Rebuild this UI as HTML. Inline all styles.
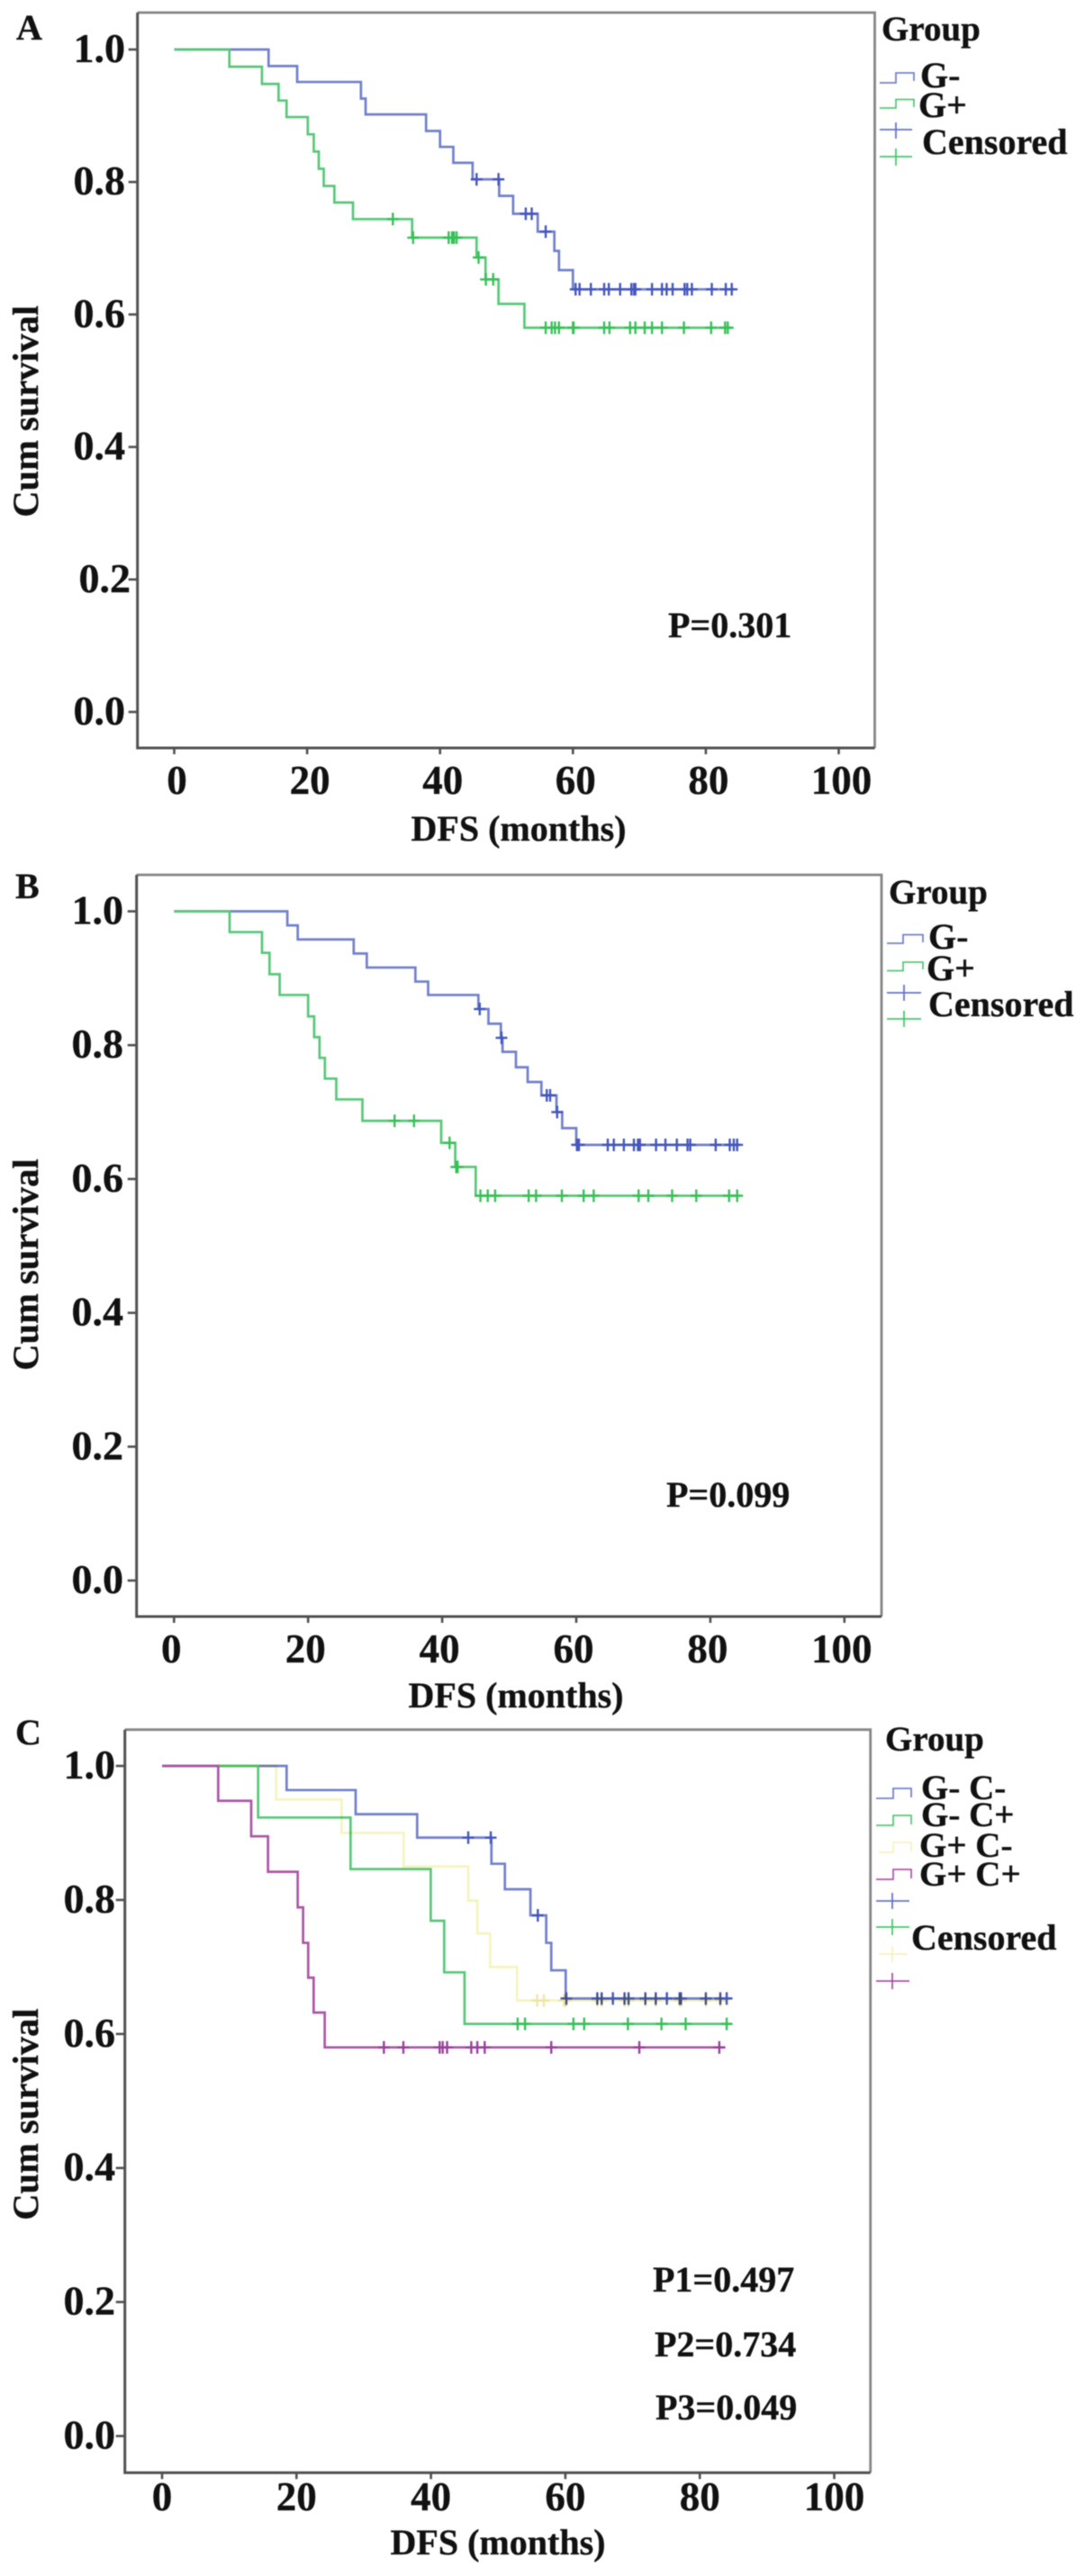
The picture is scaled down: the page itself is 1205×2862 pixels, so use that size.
<!DOCTYPE html>
<html lang="en">
<head>
<meta charset="utf-8">
<title>Kaplan-Meier DFS curves</title>
<style>
html,body{margin:0;padding:0;background:#fff;}
#chart{display:block;width:1205px;height:2862px;filter:blur(.6px);}
text{font-family:"Liberation Serif",serif;font-weight:bold;fill:#111;stroke:#111;stroke-width:.35px;}
</style>
</head>
<body>
<svg id="chart" xmlns="http://www.w3.org/2000/svg" width="1205" height="2862" viewBox="0 0 1205 2862">
  <rect x="0" y="0" width="1205" height="2862" fill="#fff"/>

  <g id="panel-a">
    <text x="18" y="44" font-size="40">A</text>
    <text x="576" y="934" font-size="40" text-anchor="middle">DFS (months)</text>
    <text transform="translate(42 457) rotate(-90)" font-size="40.5" text-anchor="middle">Cum survival</text>
    <text x="742" y="708" font-size="40">P=0.301</text>
    <text x="979" y="45" font-size="39">Group</text>
    <text x="1022" y="97" font-size="40">G-</text>
    <text x="1020" y="130" font-size="40">G+</text>
    <text x="1024" y="171" font-size="40">Censored</text>
    <path d="M977 92H995V81H1015V90" fill="none" stroke="#7482cc" stroke-width="1.8"/>
    <path d="M977 120H995V110.5H1015V119" fill="none" stroke="#55c878" stroke-width="1.8"/>
    <path d="M977 144H1013M995 136V154" fill="none" stroke="#6474c8" stroke-width="1.8"/>
    <path d="M977 174H1013M995 165V184" fill="none" stroke="#45c868" stroke-width="1.8"/>
  </g>

  <g id="panel-b">
    <text x="17" y="998" font-size="40">B</text>
    <text x="573" y="1897" font-size="40" text-anchor="middle">DFS (months)</text>
    <text transform="translate(42 1405) rotate(-90)" font-size="40.5" text-anchor="middle">Cum survival</text>
    <text x="740" y="1674" font-size="40">P=0.099</text>
    <text x="987" y="1004" font-size="39">Group</text>
    <text x="1031" y="1054" font-size="40">G-</text>
    <text x="1029" y="1089" font-size="40">G+</text>
    <text x="1031" y="1129" font-size="40">Censored</text>
    <path d="M985 1048H1003V1038.5H1025V1047" fill="none" stroke="#7482cc" stroke-width="1.8"/>
    <path d="M985 1078.5H1003V1069H1025V1077" fill="none" stroke="#55c878" stroke-width="1.8"/>
    <path d="M985 1103H1023M1004 1094V1112" fill="none" stroke="#6474c8" stroke-width="1.8"/>
    <path d="M985 1132H1023M1004 1123V1141" fill="none" stroke="#45c868" stroke-width="1.8"/>
  </g>

  <g id="panel-c">
    <text x="17" y="1938" font-size="40">C</text>
    <text x="553" y="2838" font-size="40" text-anchor="middle">DFS (months)</text>
    <text transform="translate(42 2349) rotate(-90)" font-size="40.5" text-anchor="middle">Cum survival</text>
    <text x="725" y="2546" font-size="40">P1=0.497</text>
    <text x="727" y="2618" font-size="40">P2=0.734</text>
    <text x="728" y="2688" font-size="40">P3=0.049</text>
    <text x="983" y="1945" font-size="39">Group</text>
    <text x="1023" y="1999" font-size="39">G- C-</text>
    <text x="1023" y="2029" font-size="39">G- C+</text>
    <text x="1021" y="2063" font-size="39">G+ C-</text>
    <text x="1021" y="2095" font-size="39">G+ C+</text>
    <text x="1012" y="2166" font-size="40">Censored</text>
    <path d="M973 1998H992V1987H1012V1997" fill="none" stroke="#7482cc" stroke-width="1.8"/>
    <path d="M973 2028H992V2017H1012V2027" fill="none" stroke="#55c878" stroke-width="1.8"/>
    <path d="M976 2058H992V2047H1012V2057" fill="none" stroke="#f6f4c0" stroke-width="1.8"/>
    <path d="M973 2088H992V2077H1012V2087" fill="none" stroke="#b058a8" stroke-width="1.8"/>
    <path d="M973 2112H1010M991 2103V2121" fill="none" stroke="#6474c8" stroke-width="1.8"/>
    <path d="M973 2141H1010M991 2132V2150" fill="none" stroke="#45c868" stroke-width="1.8"/>
    <path d="M976 2171H1008M991 2162V2180" fill="none" stroke="#f4f2bc" stroke-width="1.8"/>
    <path d="M973 2201H1010M991 2192V2210" fill="none" stroke="#a850a0" stroke-width="1.8"/>
  </g>
</svg>

<script>
// ----- Shared axis values -----
const xTickValues = [0, 20, 40, 60, 80, 100];
const xTickLabels = ['0', '20', '40', '60', '80', '100'];
const yTickValues = [0, 0.2, 0.4, 0.6, 0.8, 1];
const yTickLabels = ['0.0', '0.2', '0.4', '0.6', '0.8', '1.0'];

// ----- Panel A (months at each event, survival after it, censor months, last follow-up) -----
const aNegTimes = [14.2, 18.5, 28.1, 28.8, 37.9, 40.0, 42.0, 44.9, 48.9, 51.0, 54.7, 57.2, 57.9, 60.0];
const aNegSurvival = [0.975, 0.951, 0.926, 0.902, 0.877, 0.853, 0.829, 0.804, 0.779, 0.752, 0.725, 0.696, 0.667, 0.638];
const aNegCensored = [45.5, 48.8, 52.9, 53.8, 55.9, 60.4, 61.0, 62.7, 64.7, 65.4, 67.1, 68.8, 69.2, 69.4, 71.9, 73.4, 74.1, 75.0, 76.8, 77.2, 77.9, 80.9, 83.0, 83.9];
const aNegEnd = 84.4;
const aPosTimes = [8.3, 13.2, 15.7, 16.9, 20.1, 21.0, 21.75, 22.5, 24.1, 26.9, 35.8, 45.5, 46.85, 48.8, 52.7];
const aPosSurvival = [0.974, 0.948, 0.923, 0.898, 0.872, 0.846, 0.820, 0.794, 0.769, 0.744, 0.716, 0.686, 0.653, 0.616, 0.580];
const aPosCensored = [32.9, 35.95, 41.3, 41.8, 42.1, 42.5, 45.8, 46.9, 48.0, 55.9, 56.8, 57.3, 57.9, 60.0, 60.1, 64.7, 65.5, 68.6, 69.4, 70.8, 71.9, 73.4, 76.7, 80.8, 82.9, 83.3];
const aPosEnd = 83.8;

// ----- Panel B -----
const bNegTimes = [16.9, 18.45, 26.8, 28.75, 36.0, 37.9, 45.4, 46.9, 48.75, 49.0, 51.0, 52.75, 54.8, 57.05, 57.9, 60.0];
const bNegSurvival = [0.979, 0.958, 0.937, 0.916, 0.895, 0.875, 0.854, 0.832, 0.811, 0.790, 0.767, 0.745, 0.725, 0.700, 0.676, 0.651];
const bNegCensored = [45.6, 48.85, 55.6, 56.1, 57.15, 60.1, 60.4, 64.7, 65.6, 67.1, 68.6, 69.2, 69.5, 71.9, 73.3, 75.0, 76.6, 77.0, 80.8, 82.9, 83.5, 84.0];
const bNegEnd = 84.4;
const bPosTimes = [8.29, 13.12, 14.24, 15.76, 20.0, 20.9, 21.7, 22.5, 24.2, 28.1, 39.85, 41.95, 45.0];
const bPosSurvival = [0.969, 0.938, 0.906, 0.875, 0.843, 0.812, 0.781, 0.750, 0.719, 0.687, 0.654, 0.618, 0.575];
const bPosCensored = [32.9, 35.8, 41.1, 42.1, 42.3, 45.7, 46.8, 47.9, 52.9, 54.0, 57.85, 61.1, 62.6, 69.3, 70.75, 74.3, 77.9, 82.8, 84.0];
const bPosEnd = 84.4;

// ----- Panel C -----
const cNegNegTimes = [18.53, 28.8, 37.95, 49.0, 51.0, 54.8, 57.15, 57.9, 60.05];
const cNegNegSurvival = [0.964, 0.928, 0.893, 0.854, 0.816, 0.777, 0.736, 0.695, 0.653];
const cNegNegCensored = [45.55, 48.9, 55.9, 60.15, 64.75, 65.4, 67.07, 68.8, 69.4, 71.9, 73.45, 75.1, 77.0, 77.2, 80.9, 83.05, 84.0];
const cNegNegEnd = 84.6;
const cNegPosTimes = [14.29, 28.04, 39.97, 41.97, 45.0];
const cNegPosSurvival = [0.923, 0.846, 0.769, 0.692, 0.615];
const cNegPosCensored = [52.9, 54.0, 61.2, 62.8, 69.3, 74.3, 77.9, 84.0];
const cNegPosEnd = 84.6;
const cPosNegTimes = [16.97, 26.7, 35.94, 45.55, 46.9, 48.8, 52.8];
const cPosNegSurvival = [0.950, 0.900, 0.850, 0.799, 0.750, 0.700, 0.650];
const cPosNegCensored = [55.8, 56.8, 59.8, 60.1, 64.75, 65.4, 68.8, 69.4, 71.9, 73.45, 77.0, 77.2, 80.9, 83.05];
const cPosNegEnd = 83.5;
const cPosPosTimes = [8.35, 13.26, 15.76, 20.18, 20.98, 21.74, 22.55, 24.2];
const cPosPosSurvival = [0.948, 0.895, 0.842, 0.789, 0.736, 0.684, 0.632, 0.580];
const cPosPosCensored = [33.0, 35.9, 41.3, 41.75, 42.4, 46.0, 46.9, 48.0, 57.9, 71.0, 82.9];
const cPosPosEnd = 83.8;

const NS = 'http://www.w3.org/2000/svg';

function svgEl(tag, parent) {
  const el = document.createElementNS(NS, tag);
  parent.appendChild(el);
  return el;
}

function drawFrame(panel) {
  const g = document.getElementById(panel.id);
  const top = svgEl('path', g);
  
  
  top.setAttribute('d', 'M' + panel.left + ' ' + panel.top + 'H' + panel.right + 'V' + panel.bottom);
  top.setAttribute('fill', 'none');
  top.setAttribute('stroke', '#858585');
  top.setAttribute('stroke-width', '2.8');

  const axes = svgEl('path', g);
  
  
  axes.setAttribute('d', 'M' + panel.left + ' ' + panel.top + 'V' + panel.bottom + 'H' + panel.right);
  axes.setAttribute('fill', 'none');
  axes.setAttribute('stroke', '#505050');
  axes.setAttribute('stroke-width', '3');
}

function drawAxes(panel) {
  const g = document.getElementById(panel.id);
  const xScale = function (v) { return panel.x0 + v * panel.xUnit; };
  const yScale = function (v) { return panel.y0 - v * panel.yUnit; };

  xTickValues.forEach(function (v, i) {
    const tick = svgEl('line', g);
    
    
    tick.setAttribute('x1', xScale(v));
    tick.setAttribute('x2', xScale(v));
    tick.setAttribute('y1', panel.bottom);
    tick.setAttribute('y2', panel.bottom + 7);
    tick.setAttribute('stroke', '#505050');
    tick.setAttribute('stroke-width', '2.6');

    const label = svgEl('text', g);
    
    
    label.setAttribute('x', xScale(v) + panel.xLabelDx);
    label.setAttribute('y', panel.xLabelY);
    label.setAttribute('font-size', '45');
    label.setAttribute('text-anchor', 'middle');
    label.textContent = xTickLabels[i];
  });

  yTickValues.forEach(function (v, i) {
    const tick = svgEl('line', g);
    
    
    tick.setAttribute('x1', panel.left - 10);
    tick.setAttribute('x2', panel.left);
    tick.setAttribute('y1', yScale(v));
    tick.setAttribute('y2', yScale(v));
    tick.setAttribute('stroke', '#505050');
    tick.setAttribute('stroke-width', '2.6');

    const label = svgEl('text', g);
    
    
    label.setAttribute('x', panel.yLabelX + (yTickLabels[i] === '0.2' ? panel.lowLabelDx : 0));
    label.setAttribute('y', yScale(v) + 14);
    label.setAttribute('font-size', '46');
    label.setAttribute('text-anchor', 'end');
    label.textContent = yTickLabels[i];
  });
}

function survivalAt(series, t) {
  let s = 1;
  series.times.forEach(function (time, i) {
    if (time <= t) { s = series.survival[i]; }
  });
  return s;
}

function drawSeries(panel, series) {
  const g = document.getElementById(panel.id);
  const xScale = function (v) { return panel.x0 + v * panel.xUnit; };
  const yScale = function (v) { return panel.y0 - v * panel.yUnit; };

  const group = svgEl('g', g);
  
  
  if (series.multiply) { group.style.mixBlendMode = 'multiply'; }

  let d = 'M' + xScale(0) + ' ' + yScale(1);
  series.times.forEach(function (time, i) {
    d += 'H' + xScale(time) + 'V' + yScale(series.survival[i]);
  });
  d += 'H' + xScale(series.end);

  const line = svgEl('path', group);
  
  
  line.setAttribute('d', d);
  line.setAttribute('fill', 'none');
  line.setAttribute('stroke', series.color);
  line.setAttribute('stroke-width', '2.7');

  series.censored.forEach(function (t) {
    const cx = xScale(t);
    const cy = yScale(survivalAt(series, t));
    const mark = svgEl('path', group);
    
    
    mark.setAttribute('d', 'M' + (cx - 6.5) + ' ' + cy + 'H' + (cx + 6.5) + 'M' + cx + ' ' + (cy - 7) + 'V' + (cy + 7));
    mark.setAttribute('fill', 'none');
    mark.setAttribute('stroke', series.markColor);
    mark.setAttribute('stroke-width', '2.4');
  });
}

const panelA = { id: 'panel-a', left: 152.7, right: 971.5, top: 14, bottom: 831, x0: 193.5, xUnit: 7.38, y0: 791, yUnit: 736, xLabelDx: 3, xLabelY: 882, yLabelX: 139, lowLabelDx: 6 };
const panelB = { id: 'panel-b', left: 151.7, right: 979, top: 972, bottom: 1796, x0: 193.3, xUnit: 7.445, y0: 1756, yUnit: 743.5, xLabelDx: -3, xLabelY: 1847, yLabelX: 137, lowLabelDx: 0 };
const panelC = { id: 'panel-c', left: 138.7, right: 966.7, top: 1921.7, bottom: 2747.3, x0: 180, xUnit: 7.465, y0: 2706.5, yUnit: 744.5, xLabelDx: 0, xLabelY: 2789, yLabelX: 128, lowLabelDx: 0 };

const blue = '#7280cc', blueMark = '#4556bc';
const green = '#58c878', greenMark = '#38c058';
const yellow = '#f6f4c0', yellowMark = '#efe6a4';
const purple = '#ac56a6', purpleMark = '#98409a';

[panelA, panelB, panelC].forEach(drawFrame);
[panelA, panelB, panelC].forEach(drawAxes);

drawSeries(panelA, { key: 'g-neg', times: aNegTimes, survival: aNegSurvival, censored: aNegCensored, end: aNegEnd, color: blue, markColor: blueMark });
drawSeries(panelA, { key: 'g-pos', times: aPosTimes, survival: aPosSurvival, censored: aPosCensored, end: aPosEnd, color: green, markColor: greenMark });

drawSeries(panelB, { key: 'g-neg', times: bNegTimes, survival: bNegSurvival, censored: bNegCensored, end: bNegEnd, color: blue, markColor: blueMark });
drawSeries(panelB, { key: 'g-pos', times: bPosTimes, survival: bPosSurvival, censored: bPosCensored, end: bPosEnd, color: green, markColor: greenMark });

drawSeries(panelC, { key: 'g-neg-c-neg', times: cNegNegTimes, survival: cNegNegSurvival, censored: cNegNegCensored, end: cNegNegEnd, color: blue, markColor: blueMark });
drawSeries(panelC, { key: 'g-neg-c-pos', times: cNegPosTimes, survival: cNegPosSurvival, censored: cNegPosCensored, end: cNegPosEnd, color: green, markColor: greenMark });
drawSeries(panelC, { key: 'g-pos-c-neg', times: cPosNegTimes, survival: cPosNegSurvival, censored: cPosNegCensored, end: cPosNegEnd, color: yellow, markColor: yellowMark, multiply: true });
drawSeries(panelC, { key: 'g-pos-c-pos', times: cPosPosTimes, survival: cPosPosSurvival, censored: cPosPosCensored, end: cPosPosEnd, color: purple, markColor: purpleMark });
</script>
</body>
</html>
